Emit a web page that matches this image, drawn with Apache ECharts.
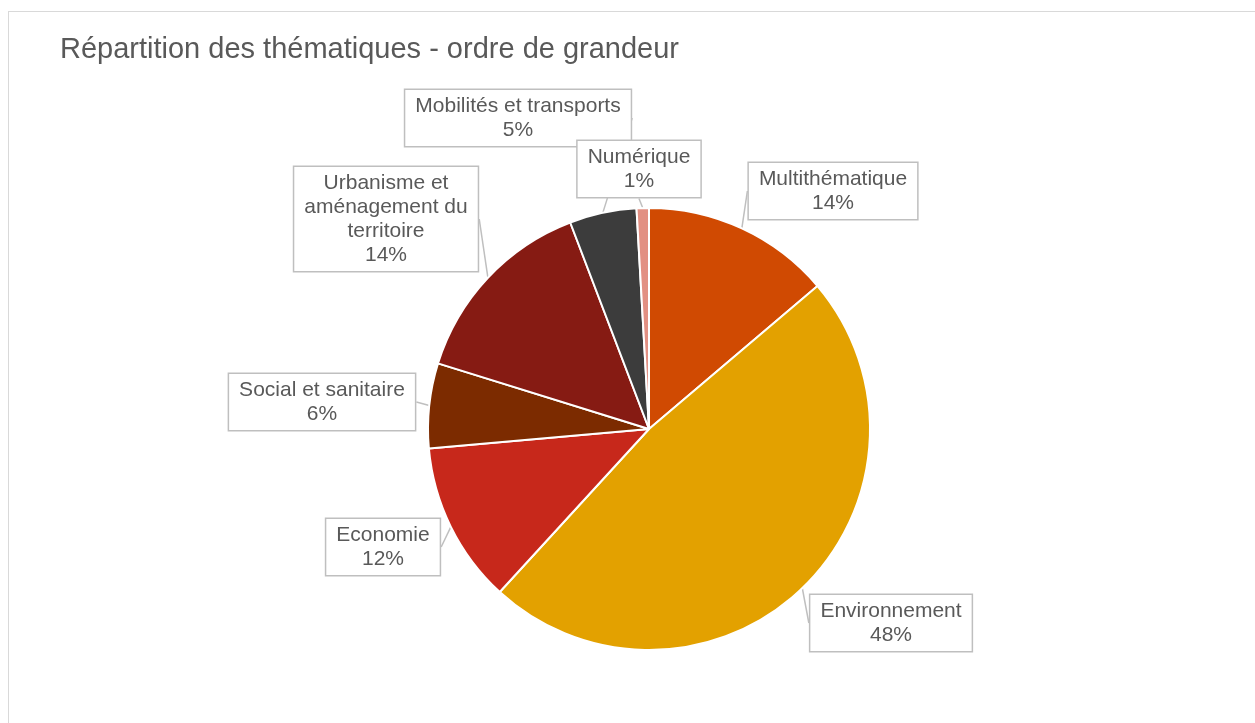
<head>
  <meta charset="utf-8" />
  <style>
    body { margin: 0; background: #fff; }
    #frame { position: absolute; left: 8px; top: 11px; width: 1300px; height: 800px; border: 1px solid #d9d9d9; }
    #main { position: absolute; left: 0; top: 0; width: 1255px; height: 723px; }
  </style>
</head>

<body>
  <div id="frame"></div>
  <div id="main"></div>
  <script src="https://cdn.jsdelivr.net/npm/echarts@6/dist/echarts.min.js"></script>
  <script>
    // thématiques, dans l'ordre horaire depuis midi
    var themes = [
      "Multithématique",
      "Environnement",
      "Economie",
      "Social et sanitaire",
      "Urbanisme et\naménagement du\nterritoire",
      "Mobilités et transports",
      "Numérique",
    ];
    var parts = [13.8, 48.0, 11.8, 6.2, 14.4, 4.9, 0.9];
    var couleurs = ["#D04A02", "#E3A100", "#C7281B", "#7C2B00", "#861B13", "#3C3C3C", "#E29083"];
    // centre des étiquettes (px)
    var posEtiquettes = [
      [833, 191],
      [891, 623],
      [383, 547],
      [322, 402],
      [386, 219],
      [518, 118],
      [639, 169],
    ];

    var myChart = echarts.init(document.getElementById("main"));
    var option = {
      animation: false,
      title: {
        text: "Répartition des thématiques - ordre de grandeur",
        left: 55,
        top: 30,
        textStyle: {
          fontFamily: "Liberation Sans",
          fontSize: 29,
          fontWeight: "normal",
          color: "#595959",
        },
      },
      series: [
        {
          type: "pie",
          center: [649, 429],
          radius: 221,
          startAngle: 90,
          clockwise: true,
          itemStyle: { borderColor: "#fff", borderWidth: 2 },
          label: {
            show: true,
            position: "outside",
            formatter: function (p) {
              return p.name + "\n" + Math.round(p.value) + "%";
            },
            fontFamily: "Liberation Sans",
            fontSize: 21,
            lineHeight: 24,
            color: "#595959",
            align: "center",
            backgroundColor: "#fff",
            borderColor: "#bfbfbf",
            borderWidth: 1.5,
            padding: [4, 10, 4, 10],
          },
          labelLine: {
            show: true,
            length: 10,
            length2: 0,
            lineStyle: { color: "#bfbfbf", width: 1.5 },
          },
          labelLayout: function (params) {
            var pos = posEtiquettes[params.dataIndex];
            return {
              x: pos[0],
              y: pos[1],
              align: "center",
              verticalAlign: "middle",
            };
          },
          data: themes.map(function (t, i) {
            return { name: t, value: parts[i], itemStyle: { color: couleurs[i] } };
          }),
        },
      ],
    };
    myChart.setOption(option);
  </script>
</body>
